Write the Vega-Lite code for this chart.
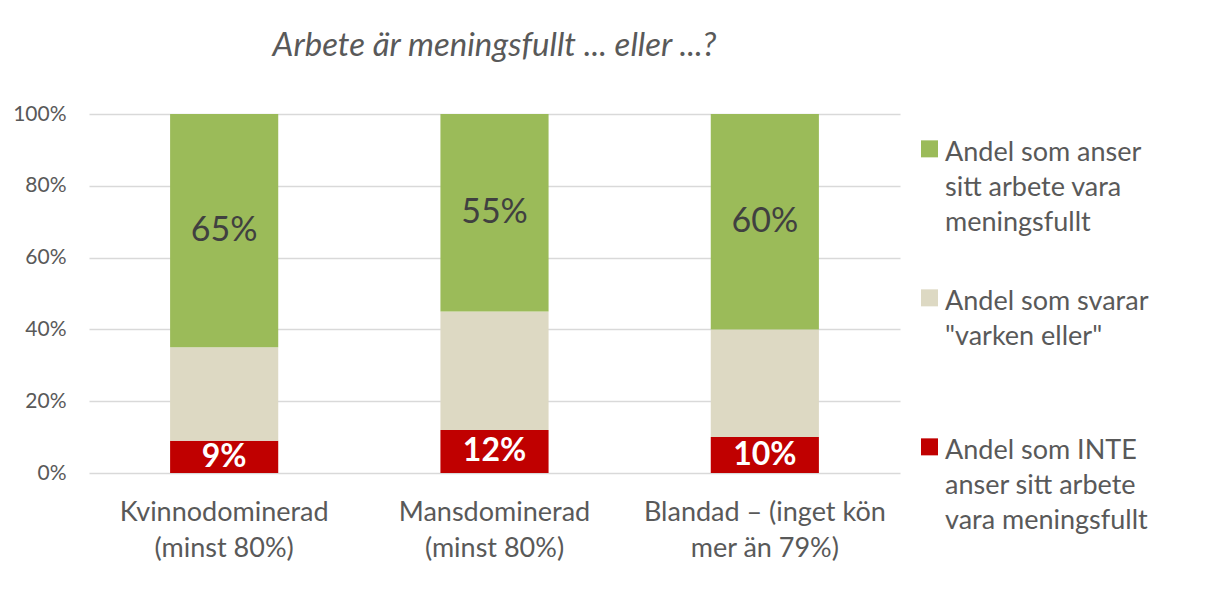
{
  "$schema": "https://vega.github.io/schema/vega-lite/v6.json",
  "width": 811,
  "height": 359,
  "autosize": "none",
  "padding": {"left": 89, "top": 114, "right": 308, "bottom": 124},
  "background": "white",
  "config": {
    "font": "Lato",
    "view": {"stroke": null},
    "style": {"guide-label": {"lineHeight": 35}}
  },
  "title": {
    "text": "Arbete är meningsfullt ... eller ...?",
    "font": "Lato",
    "fontSize": 33,
    "fontStyle": "italic",
    "fontWeight": "normal",
    "color": "#595959",
    "anchor": "middle",
    "offset": 40
  },
  "data": {
    "values": [
      {"grupp": "Kvinnodominerad (minst 80%)", "kategori": "Andel som INTE anser sitt arbete vara meningsfullt", "ordning": 1, "andel": 0.09},
      {"grupp": "Kvinnodominerad (minst 80%)", "kategori": "Andel som svarar \"varken eller\"", "ordning": 2, "andel": 0.26},
      {"grupp": "Kvinnodominerad (minst 80%)", "kategori": "Andel som anser sitt arbete vara meningsfullt", "ordning": 3, "andel": 0.65},
      {"grupp": "Mansdominerad (minst 80%)", "kategori": "Andel som INTE anser sitt arbete vara meningsfullt", "ordning": 1, "andel": 0.12},
      {"grupp": "Mansdominerad (minst 80%)", "kategori": "Andel som svarar \"varken eller\"", "ordning": 2, "andel": 0.33},
      {"grupp": "Mansdominerad (minst 80%)", "kategori": "Andel som anser sitt arbete vara meningsfullt", "ordning": 3, "andel": 0.55},
      {"grupp": "Blandad – (inget kön mer än 79%)", "kategori": "Andel som INTE anser sitt arbete vara meningsfullt", "ordning": 1, "andel": 0.10},
      {"grupp": "Blandad – (inget kön mer än 79%)", "kategori": "Andel som svarar \"varken eller\"", "ordning": 2, "andel": 0.30},
      {"grupp": "Blandad – (inget kön mer än 79%)", "kategori": "Andel som anser sitt arbete vara meningsfullt", "ordning": 3, "andel": 0.60}
    ]
  },
  "transform": [
    {"stack": "andel", "groupby": ["grupp"], "sort": [{"field": "ordning", "order": "ascending"}], "as": ["y0", "y1"]},
    {"calculate": "(datum.y0 + datum.y1) / 2", "as": "ymid"}
  ],
  "layer": [
    {
      "mark": {"type": "bar", "stroke": null},
      "encoding": {
        "x": {
          "field": "grupp",
          "type": "nominal",
          "sort": null,
          "scale": {"paddingInner": 0.6, "paddingOuter": 0.3},
          "axis": {
            "title": null,
            "labelAngle": 0,
            "ticks": false,
            "domain": false,
            "labelFontSize": 27,
            "labelColor": "#595959",
            "labelPadding": 26,
            "labelLineHeight": 36,
            "labelLimit": 400,
            "labelBaseline": "top",
            "labelExpr": "datum.label == 'Kvinnodominerad (minst 80%)' ? ['Kvinnodominerad', '(minst 80%)'] : datum.label == 'Mansdominerad (minst 80%)' ? ['Mansdominerad', '(minst 80%)'] : ['Blandad – (inget kön', 'mer än 79%)']"
          }
        },
        "y": {
          "field": "y0",
          "type": "quantitative",
          "scale": {"domain": [0, 1]},
          "axis": {
            "title": null,
            "format": ".0%",
            "values": [0, 0.2, 0.4, 0.6, 0.8, 1],
            "ticks": false,
            "domain": false,
            "labelFontSize": 21,
            "labelColor": "#595959",
            "labelPadding": 23,
            "gridColor": "#d9d9d9",
            "gridWidth": 1.5
          }
        },
        "y2": {"field": "y1"},
        "color": {
          "field": "kategori",
          "type": "nominal",
          "scale": {
            "domain": ["Andel som anser sitt arbete vara meningsfullt", "Andel som svarar \"varken eller\"", "Andel som INTE anser sitt arbete vara meningsfullt"],
            "range": ["#9BBB59", "#DDD9C3", "#C00000"]
          },
          "legend": {
            "title": null,
            "orient": "none",
            "legendX": 827,
            "legendY": 12,
            "padding": 0,
            "symbolType": "M-1,0.1H1V2.1H-1Z",
            "symbolSize": 289,
            "symbolStrokeWidth": 0,
            "labelFont": "Lato",
            "labelFontSize": 27,
            "labelColor": "#595959",
            "labelBaseline": "top",
            "labelOffset": 2,
            "labelLimit": 300,
            "rowPadding": 39,
            "labelExpr": "datum.label == 'Andel som anser sitt arbete vara meningsfullt' ? ['Andel som anser', 'sitt arbete vara', 'meningsfullt'] : datum.label == 'Andel som INTE anser sitt arbete vara meningsfullt' ? ['Andel som INTE', 'anser sitt arbete', 'vara meningsfullt'] : ['Andel som svarar', '\"varken eller\"', '']"
          }
        }
      }
    },
    {
      "transform": [{"filter": "datum.ordning == 3"}],
      "mark": {"type": "text", "fontSize": 34, "color": "#404040", "baseline": "middle", "font": "Lato"},
      "encoding": {
        "x": {"field": "grupp", "type": "nominal", "sort": null},
        "y": {"field": "ymid", "type": "quantitative"},
        "text": {"field": "andel", "type": "quantitative", "format": ".0%"}
      }
    },
    {
      "transform": [{"filter": "datum.ordning == 1"}],
      "mark": {"type": "text", "fontSize": 32, "fontWeight": "bold", "color": "white", "baseline": "middle", "font": "Lato"},
      "encoding": {
        "x": {"field": "grupp", "type": "nominal", "sort": null},
        "y": {"field": "ymid", "type": "quantitative"},
        "text": {"field": "andel", "type": "quantitative", "format": ".0%"}
      }
    }
  ]
}
